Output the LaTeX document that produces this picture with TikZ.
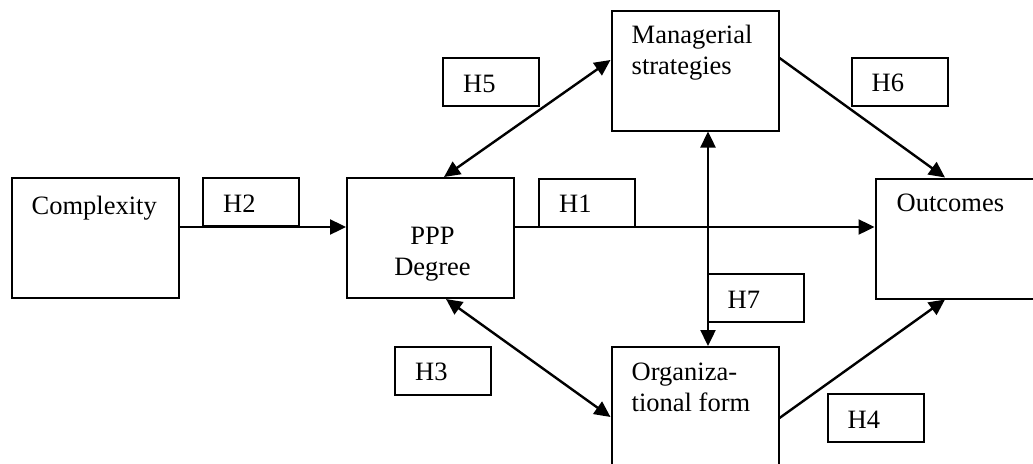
\documentclass[tikz,border=0pt]{standalone}
\usepackage{fontspec}
\setmainfont{Liberation Serif}
\usetikzlibrary{arrows.meta,calc}

\tikzset{
    box/.style={draw, line width=2pt, inner sep=0pt},
    bigbox/.style={box, minimum width=167pt, minimum height=120pt},
    hbox/.style={box, minimum width=96pt, minimum height=48pt},
    txt/.style={anchor=base west, inner sep=0pt, align=left},
    tip/.style={Triangle[length=16pt, width=15pt]},
    arr/.style={line width=2.4pt, -{Triangle[length=16pt, width=15pt]}},
    dblarr/.style={line width=2.4pt, {Triangle[length=16pt, width=15pt]}-{Triangle[length=16pt, width=15pt]}}
}

\begin{document}
\begin{tikzpicture}[x=1pt, y=-1pt, font=\fontsize{26.5}{31}\selectfont]
    \useasboundingbox (0,0) rectangle (1033,463);
    \clip (0,0) rectangle (1033,463);

    \node[bigbox] (cplx) at (95,238) {};
    \node[bigbox] (ppp) at (430.5,238) {};
    \node[bigbox] (mgr) at (695,70.5) {};
    \node[bigbox] (out) at (959,238.5) {};
    \node[bigbox] (org) at (695,407) {};

    % two-line texts sit on the baseline of their last line
    \node[txt] (cplxtxt) at ($(cplx.north west)+(21,37)$) {Complexity};
    \node[txt, anchor=base, align=center] (ppptxt) at ($(ppp.north)+(2,98)$) {PPP\\Degree};
    \node[txt] (mgrtxt) at ($(mgr.north west)+(21,65)$) {Managerial\\strategies};
    \node[txt] (outtxt) at ($(out.north west)+(22,34)$) {Outcomes};
    \node[txt] (orgtxt) at ($(org.north west)+(21,65)$) {Organiza-\\tional form};

    \draw[arr] ($(cplx.east)+(0,-11)$) -- ($(ppp.west)+(0,-11)$);
    \draw[arr] ($(ppp.east)+(0,-11)$) -- ($(out.west)+(0,-11.5)$);
    \draw[arr] ($(mgr.east)+(0,-12.5)$) -- ($(out.north)+(-14,0)$);
    \draw[arr] ($(org.east)+(0,11)$) -- ($(out.south)+(-14,0)$);
    \draw[dblarr] ($(ppp.north)+(13.5,0)$) -- ($(mgr.west)+(0,-10.5)$);
    \draw[dblarr] ($(ppp.south)+(15.5,0)$) -- ($(org.west)+(0,10)$);
    \draw[dblarr] ($(mgr.south)+(13,0)$) -- ($(org.north)+(13,0)$);

    \node[hbox] (h2) at (251,202) {};
    \node[hbox] (h1) at (587,202.5) {};
    \node[hbox] (h5) at (491,82) {};
    \node[hbox] (h6) at (899.5,81.5) {};
    \node[hbox] (h7) at (755.5,298) {};
    \node[hbox] (h3) at (443,370.5) {};
    \node[hbox] (h4) at (875.5,418) {};

    \foreach \h/\t in {h2/H2, h1/H1, h5/H5, h6/H6, h7/H7, h3/H3, h4/H4}
        \node[txt] (\h txt) at ($(\h.north west)+(21,35)$) {\t};
\end{tikzpicture}
\end{document}
